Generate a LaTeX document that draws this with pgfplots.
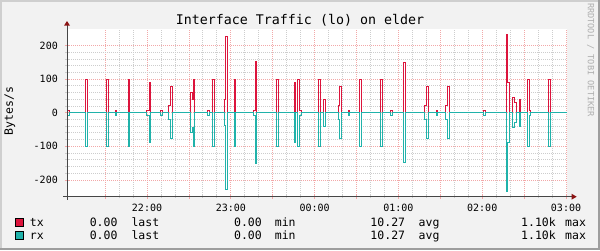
\documentclass[border=0pt]{standalone}
\usepackage{pgfplots}
\pgfplotsset{compat=1.18}
\usepackage{fontspec}
\setmainfont{DejaVu Sans Mono}
\definecolor{txcol}{RGB}{220,20,60}
\definecolor{rxcol}{RGB}{32,178,170}
\definecolor{bgcol}{RGB}{242,242,242}
\definecolor{mgridcol}{RGB}{242,168,168}
\definecolor{gridcol}{RGB}{205,205,205}
\definecolor{axiscol}{RGB}{70,70,70}
\definecolor{arrowcol}{RGB}{140,20,20}
\definecolor{shadea}{RGB}{207,207,207}
\definecolor{shadeb}{RGB}{158,158,158}
\definecolor{wmcol}{RGB}{175,175,175}
\newcommand\lf{\fontsize{11.5}{14}\selectfont}
\begin{document}
\begin{tikzpicture}[x=1pt,y=1pt]
\useasboundingbox (0,0) rectangle (600,250);
\fill[bgcol] (0,0) rectangle (600,250);
\fill[shadea] (0,0) rectangle (2,250);
\fill[shadea] (0,248) rectangle (600,250);
\fill[shadeb] (598,0) rectangle (600,250);
\fill[shadeb] (0,0) rectangle (600,2);
\fill[white] (67,53.3) rectangle (567,221.3);
\begin{axis}[
  at={(67pt,53.3pt)}, anchor=south west,
  scale only axis, width=500pt, height=168pt,
  xmin=2.7, xmax=360.7, ymin=-250, ymax=250,
  axis line style={draw=none},
  tick pos=left,
  xtick={30,60,...,360},
  xticklabels={,22:00,,23:00,,00:00,,01:00,,02:00,,03:00},
  minor x tick num=2,
  ytick={-200,-100,0,100,200},
  yticklabels={-200,-100,0,100,200},
  minor y tick num=4,
  grid=both,
  major grid style={draw=mgridcol, line width=0.8pt, dash pattern=on 1pt off 1pt},
  minor grid style={draw=gridcol, line width=0.8pt, dash pattern=on 1pt off 1pt},
  tick label style={font=\fontsize{10}{12}\selectfont, inner sep=0pt},
  xticklabel style={yshift=-5.6pt},
  yticklabel style={xshift=-7pt},
  major tick length=4pt, minor tick length=3pt,
  tick align=center,
  every major tick/.append style={draw=mgridcol, line width=0.8pt},
  every minor tick/.append style={draw=gridcol, line width=0.8pt},
]
\addplot[const plot, draw=txcol, line width=1.1pt, mark=none] coordinates {
(2.7,0) (2.95,7) (4.3,0)
(15.97,100) (17.40,0)
(31.0,100) (32.43,0)
(37.44,7) (38.16,0)
(46.64,100) (47.36,0)
(59.64,7) (61.79,91) (62.51,0)
(69.67,7) (71.10,0)
(75.39,22) (76.83,78) (78.26,0)
(91.15,60) (92.58,40) (93.29,100) (94.01,0)
(103.32,7) (104.75,0)
(106.9,100) (108.33,0)
(115.49,40) (116.2,226) (117.64,0)
(122.65,100) (123.37,0)
(136.25,7) (137.69,153) (138.4,0)
(152.72,100) (154.15,0)
(165.61,91) (166.33,0)
(167.76,100) (169.19,7) (170.62,0)
(182.79,100) (184.23,0)
(186.37,40) (187.81,0)
(197.11,22) (197.83,78) (199.26,0)
(204.27,7) (204.99,0)
(212.15,100) (213.58,0)
(227.19,100) (228.62,0)
(234.35,7) (235.78,0)
(243.65,149) (245.09,0)
(258.69,22) (260.12,78) (261.55,0)
(267.28,7) (268.0,0)
(273.73,22) (275.16,78) (276.59,0)
(300.93,7) (302.37,0)
(317.4,234) (318.12,90) (319.55,0)
(321.7,45) (323.13,30) (324.56,0)
(326.71,40) (327.43,0)
(332.44,100) (333.87,7) (334.59,0)
(347.47,100) (348.91,0)
(360.7,0)
};
\addplot[const plot, draw=rxcol, line width=1.1pt, mark=none] coordinates {
(2.7,0) (2.95,-7) (4.3,0)
(15.97,-100) (17.40,0)
(31.0,-100) (32.43,0)
(37.44,-8) (38.16,0)
(46.64,-100) (47.36,0)
(59.64,-7) (61.79,-90) (62.51,0)
(69.67,-7) (71.10,0)
(75.39,-21) (76.83,-78) (78.26,0)
(91.15,-60) (92.58,-43) (93.29,-100) (94.01,0)
(103.32,-7) (104.75,0)
(106.9,-100) (108.33,0)
(115.49,-38) (116.2,-229) (117.64,0)
(122.65,-100) (123.37,0)
(136.25,-7) (137.69,-152) (138.4,0)
(152.72,-100) (154.15,0)
(165.61,-90) (166.33,0)
(167.76,-100) (169.19,-7) (170.62,0)
(182.79,-100) (184.23,0)
(186.37,-40) (187.81,0)
(197.11,-21) (197.83,-78) (199.26,0)
(204.27,-8) (204.99,0)
(212.15,-100) (213.58,0)
(227.19,-100) (228.62,0)
(234.35,-7) (235.78,0)
(243.65,-149) (245.09,0)
(258.69,-21) (260.12,-78) (261.55,0)
(267.28,-8) (268.0,0)
(273.73,-21) (275.16,-78) (276.59,0)
(300.93,-7) (302.37,0)
(317.4,-234) (318.12,-90) (319.55,0)
(321.7,-45) (323.13,-30) (324.56,0)
(326.71,-40) (327.43,0)
(332.44,-100) (333.87,-7) (334.59,0)
(347.47,-100) (348.91,0)
(360.7,0)
};
\end{axis}
% axis lines and arrows
\draw[axiscol, line width=1pt] (63.3,53.3) -- (572,53.3);
\draw[axiscol, line width=1pt] (67,50.5) -- (67,225);
\fill[arrowcol] (571.5,50.3) -- (576.7,53.3) -- (571.5,56.3) -- cycle;
\fill[arrowcol] (64,224.3) -- (67,229) -- (70,224.3) -- cycle;
% title and labels
\node[anchor=base, inner sep=0pt, font=\fontsize{13.3}{16}\selectfont] at (300,226) {Interface Traffic (lo) on elder};
\node[rotate=90, inner sep=0pt, font=\lf] at (10,139) {Bytes/s};
\node[rotate=-90, inner sep=0pt, text=wmcol, font=\fontsize{8.6}{10}\selectfont] at (590.7,190) {RRDTOOL / TOBI OETIKER};
% legend
\filldraw[fill=txcol, draw=black, line width=1pt] (15.3,23.5) rectangle (23,31.8);
\filldraw[fill=rxcol, draw=black, line width=1pt] (15.3,10.3) rectangle (23,18.6);
\begin{scope}[every node/.style={inner sep=0pt, font=\lf}]
\node[anchor=base west] at (29.7,24) {tx};
\node[anchor=base east] at (117.7,24) {0.00};
\node[anchor=base west] at (131.3,24) {last};
\node[anchor=base east] at (262,24) {0.00};
\node[anchor=base west] at (274.7,24) {min};
\node[anchor=base east] at (405.3,24) {10.27};
\node[anchor=base west] at (418.5,24) {avg};
\node[anchor=base east] at (556,24) {1.10k};
\node[anchor=base west] at (565,24) {max};
\node[anchor=base west] at (29.7,11) {rx};
\node[anchor=base east] at (117.7,11) {0.00};
\node[anchor=base west] at (131.3,11) {last};
\node[anchor=base east] at (262,11) {0.00};
\node[anchor=base west] at (274.7,11) {min};
\node[anchor=base east] at (405.3,11) {10.27};
\node[anchor=base west] at (418.5,11) {avg};
\node[anchor=base east] at (556,11) {1.10k};
\node[anchor=base west] at (565,11) {max};
\end{scope}
\end{tikzpicture}
\end{document}
